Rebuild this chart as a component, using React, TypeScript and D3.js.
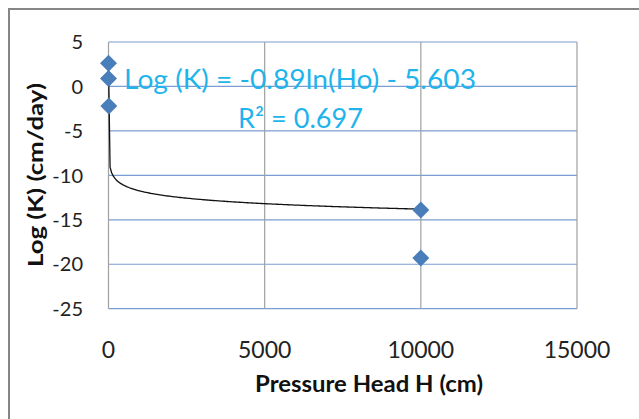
import React from "react";
import * as d3 from "d3";

const pointX = [0.0001, 1, 10, 10000, 10000];
const pointY = [2.6, 0.9, -2.2, -13.9, -19.3];
const xTicks = [0, 5000, 10000, 15000];
const yTicks = [5, 0, -5, -10, -15, -20, -25];
const trendSlope = -0.89;
const trendIntercept = -5.603;
const equationLine1 = "Log (K) = -0.89ln(Ho) - 5.603";
const equationLine2 = "R² = 0.697";
const xTitle = "Pressure Head H (cm)";
const yTitle = "Log (K) (cm/day)";

const W = 639;
const H = 419;
const font = "Lato, 'Open Sans', sans-serif";

export default function App() {
  const x = d3.scaleLinear().domain([0, 15000]).range([108.5, 577]);
  const y = d3.scaleLinear().domain([-25, 5]).range([308.7, 42]);

  const minX = d3.min(pointX) as number;
  const maxX = d3.max(pointX) as number;
  const logScale = d3.scaleLog().domain([minX, maxX]);
  const samples = logScale.ticks(200).filter((v) => v >= minX && v <= maxX);
  const trendPts: [number, number][] = [minX, ...samples, maxX].map((v) => [
    v,
    trendSlope * Math.log(v) + trendIntercept,
  ]);
  const line = d3
    .line<[number, number]>()
    .x((d) => x(d[0]))
    .y((d) => y(d[1]));

  const diamond = (cx: number, cy: number, r: number) =>
    `M${cx},${cy - r}L${cx + r},${cy}L${cx},${cy + r}L${cx - r},${cy}Z`;

  return (
    <svg
      width={W}
      height={H}
      style={{ position: "absolute", left: 0, top: 0, background: "#fff" }}
    >
      <rect x={0} y={0} width={W} height={H} fill="#fff" />
      <line x1={8} y1={9} x2={W} y2={9} stroke="#868686" strokeWidth={2} />
      <line x1={9} y1={8} x2={9} y2={H} stroke="#868686" strokeWidth={2} />

      {yTicks.map((t) => (
        <line
          key={"h" + t}
          x1={x(0)}
          x2={x(15000)}
          y1={y(t)}
          y2={y(t)}
          stroke="#7a9dd2"
          strokeWidth={1.2}
        />
      ))}
      {xTicks.map((t) => (
        <line
          key={"v" + t}
          x1={x(t)}
          x2={x(t)}
          y1={y(5)}
          y2={y(-25)}
          stroke="#a0a0a0"
          strokeWidth={1.2}
        />
      ))}

      <path d={line(trendPts) || ""} fill="none" stroke="#111" strokeWidth={1.3} />

      {pointX.map((px, i) => (
        <path key={"p" + i} d={diamond(x(px), y(pointY[i]), 8.5)} fill="#4a7ebb" />
      ))}

      {yTicks.map((t) => (
        <text
          key={"yl" + t}
          x={83}
          y={y(t)}
          dy="0.36em"
          textAnchor="end"
          fontFamily={font}
          fontSize={20}
          fill="#222"
        >
          {t}
        </text>
      ))}
      {xTicks.map((t) => (
        <text
          key={"xl" + t}
          x={x(t)}
          y={358}
          textAnchor="middle"
          fontFamily={font}
          fontSize={23}
          fill="#222"
        >
          {t}
        </text>
      ))}

      <text
        x={124}
        y={89}
        fontFamily={font}
        fontSize={26}
        fill="#1fb4ec"
        textLength={352}
        lengthAdjust="spacingAndGlyphs"
      >
        {equationLine1}
      </text>
      <text
        x={238}
        y={128}
        fontFamily={font}
        fontSize={26}
        fill="#1fb4ec"
        textLength={125}
        lengthAdjust="spacingAndGlyphs"
      >
        {equationLine2}
      </text>

      <text
        x={255}
        y={392}
        fontFamily={font}
        fontWeight="bold"
        fontSize={22}
        fill="#111"
        textLength={228}
        lengthAdjust="spacingAndGlyphs"
      >
        {xTitle}
      </text>
      <text
        transform={`translate(43,175) rotate(-90)`}
        textAnchor="middle"
        fontFamily={font}
        fontWeight="bold"
        fontSize={21}
        fill="#111"
        textLength={184}
        lengthAdjust="spacingAndGlyphs"
      >
        {yTitle}
      </text>
    </svg>
  );
}
